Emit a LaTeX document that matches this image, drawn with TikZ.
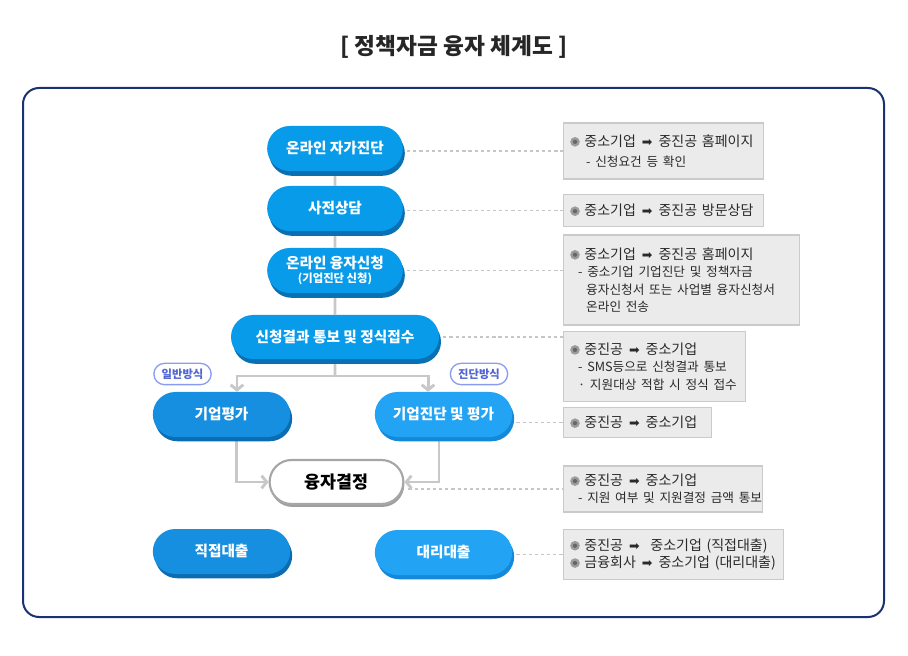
\documentclass[tikz,border=0pt]{standalone}
\usepackage{fontspec}
\setmainfont{Noto Sans CJK KR}
\newfontfamily\arrowfont{DejaVu Sans}
\usetikzlibrary{shapes.misc,shadows,arrows.meta,backgrounds}

\definecolor{pillblue}{HTML}{089BEA}
\definecolor{pilldark}{HTML}{0A70B4}
\definecolor{leftblue}{HTML}{168FE0}
\definecolor{leftdark}{HTML}{0B6CB2}
\definecolor{rightblue}{HTML}{22A3F4}
\definecolor{rightdark}{HTML}{1489DA}
\definecolor{framenavy}{HTML}{1B3272}
\definecolor{conngray}{HTML}{C8C8C8}
\definecolor{boxfill}{HTML}{EBEBEB}
\definecolor{boxline}{HTML}{CACACA}
\definecolor{tagline}{HTML}{8A9CF2}
\definecolor{tagtext}{HTML}{5166D2}
\definecolor{textgray}{HTML}{2A2A2A}
\definecolor{dotgray}{HTML}{9C9C9C}
\definecolor{dotcore}{HTML}{666666}

\newcommand{\infodot}{\tikz[baseline=-0.6ex]{\fill[dotgray] (0,0) circle (3.6pt); \fill[dotcore] (0,0) circle (1.6pt);}}
\newcommand{\toarr}{\hspace{4.5pt}{\arrowfont\fontsize{9.5}{9}\selectfont ➡}\hspace{4.5pt}}
\newcommand{\infosub}[1]{\mbox{\fontsize{9.5}{13}\selectfont #1}}
\newcommand{\infospace}{\spaceskip=2.6pt plus 1pt\relax}

\begin{document}
\begin{tikzpicture}[x=0.75pt,y=-0.75pt,
  pill/.style={rounded rectangle, text=white, font=\fontsize{11}{13}\selectfont\bfseries, minimum height=33.75pt, inner sep=2pt},
  toppill/.style={pill, fill=pillblue, minimum width=105.75pt, drop shadow={shadow xshift=1.5pt, shadow yshift=-3.6pt, fill=pilldark, opacity=1}},
  leftpill/.style={pill, fill=leftblue, minimum width=107pt, drop shadow={shadow xshift=1.5pt, shadow yshift=-3.2pt, fill=leftdark, opacity=1}},
  rightpill/.style={pill, fill=rightblue, minimum width=107pt, drop shadow={shadow xshift=1.5pt, shadow yshift=-3.2pt, fill=rightdark, opacity=1}},
  decision/.style={rounded rectangle, fill=white, draw=gray!70, line width=1.6pt, font=\fontsize{13}{15}\selectfont\bfseries, minimum width=107pt, minimum height=33pt, drop shadow={shadow xshift=0.6pt, shadow yshift=-2.2pt, fill=gray!75, opacity=1}},
  waytag/.style={rounded rectangle, draw=tagline, line width=1pt, fill=white, text=tagtext, font=\fontsize{8.5}{10}\selectfont\bfseries, minimum width=47pt, minimum height=16pt, inner sep=2pt},
  infobox/.style={rectangle, draw=boxline, line width=0.8pt, fill=boxfill, anchor=west, align=left, inner xsep=5pt, inner ysep=3pt, text=textgray, font=\fontsize{10.5}{13}\selectfont\infospace},
  conn/.style={draw=conngray, line width=2.2pt},
  arrowhd/.style={-{Straight Barb[length=3.8pt,width=9.5pt]}},
  dotline/.style={draw=gray!45, line width=1.1pt, dash pattern=on 2.4pt off 2.2pt, shorten <=3pt}]

\useasboundingbox (0,0) rectangle (908,656);

\node[font=\fontsize{17}{20}\selectfont\bfseries, text=black!85] (title) at (454,47) {[ 정책자금 융자 체계도 ]};
\draw[framenavy, line width=1.5pt, rounded corners=12pt] (23,88) rectangle (884,617);

\node[toppill] (n1) at (335,148.5) {온라인 자가진단};
\node[toppill] (n2) at (335,208.5) {사전상담};
\node[toppill, align=center] (n3) at (335,270.5) {온라인 융자신청\\[-3pt]{\fontsize{8.5}{9}\selectfont (기업진단 신청)}};
\node[toppill, minimum width=160pt, minimum height=33pt] (n4) at (335,337) {신청결과 통보 및 정식접수};

\node[leftpill] (n5) at (221.5,414.5) {기업평가};
\node[rightpill] (n6) at (443.5,414.5) {기업진단 및 평가};
\node[decision] (n7) at (336.5,482) {융자결정};
\node[leftpill] (n8) at (221.5,551.5) {직접대출};
\node[rightpill] (n9) at (443.5,552.5) {대리대출};

\node[waytag] (t1) at (182.5,374) {일반방식};
\node[waytag] (t2) at (479,374) {진단방식};

\node[infobox, text width=140pt, minimum height=42pt] (b1) at (563,151) {\infodot\ 중소기업\toarr 중진공 홈페이지\\[2pt] \hspace*{12pt}\infosub{- 신청요건 등 확인}};
\node[infobox, text width=140pt, minimum height=24pt] (b2) at (563,210.5) {\infodot\ 중소기업\toarr 중진공 방문상담};
\node[infobox, text width=167pt, minimum height=67.5pt] (b3) at (563,280) {\infodot\ 중소기업\toarr 중진공 홈페이지\\ \hspace*{6pt}\infosub{- 중소기업 기업진단 및 정책자금}\\ \hspace*{12pt}\infosub{융자신청서 또는 사업별 융자신청서}\\ \hspace*{12pt}\infosub{온라인 전송}};
\node[infobox, text width=126.5pt, minimum height=53pt] (b4) at (563,366.5) {\infodot\ 중진공\toarr 중소기업\\ \hspace*{6pt}\infosub{- SMS등으로 신청결과 통보}\\ \hspace*{6pt}\infosub{· 지원대상 적합 시 정식 접수}};
\node[infobox, text width=101pt, minimum height=22pt] (b5) at (563,422.5) {\infodot\ 중진공\toarr 중소기업};
\node[infobox, text width=139pt, minimum height=34.5pt] (b6) at (563,489) {\infodot\ 중진공\toarr 중소기업\\ \hspace*{6pt}\infosub{- 지원 여부 및 지원결정 금액 통보}};
\node[infobox, text width=155pt, minimum height=37pt] (b7) at (563,554.5) {\infodot\ 중진공\toarr\ 중소기업 (직접대출)\\ \infodot\ 금융회사\toarr 중소기업 (대리대출)};

\coordinate (split) at (335,376);

\begin{scope}[on background layer]
\draw[conn] (n1) -- (n2);
\draw[conn] (n2) -- (n3);
\draw[conn] (n3) -- (n4);
\draw[conn] (n4) -- (split);
\draw[conn, arrowhd] (split) -| ([xshift=11.6pt]n5.north);
\draw[conn, arrowhd] (split) -| ([xshift=-11.6pt]n6.north);
\draw[conn, arrowhd] ([xshift=10.9pt]n5.south) |- (n7.west);
\draw[conn, arrowhd] ([xshift=-3.4pt]n6.south) |- (n7.east);

\draw[dotline] (b1.west -| n1.east) -- (b1.west);
\draw[dotline] (b2.west -| n2.east) -- (b2.west);
\draw[dotline] (n3.east) -- (n3.east -| b3.west);
\draw[dotline] (n4.east) -- (n4.east -| b4.west);
\draw[dotline] (b5.west -| n6.east) -- (b5.west);
\draw[dotline] (b6.west -| n7.east) -- (b6.west);
\draw[dotline] (b7.west -| n9.east) -- (b7.west);
\end{scope}
\end{tikzpicture}
\end{document}
